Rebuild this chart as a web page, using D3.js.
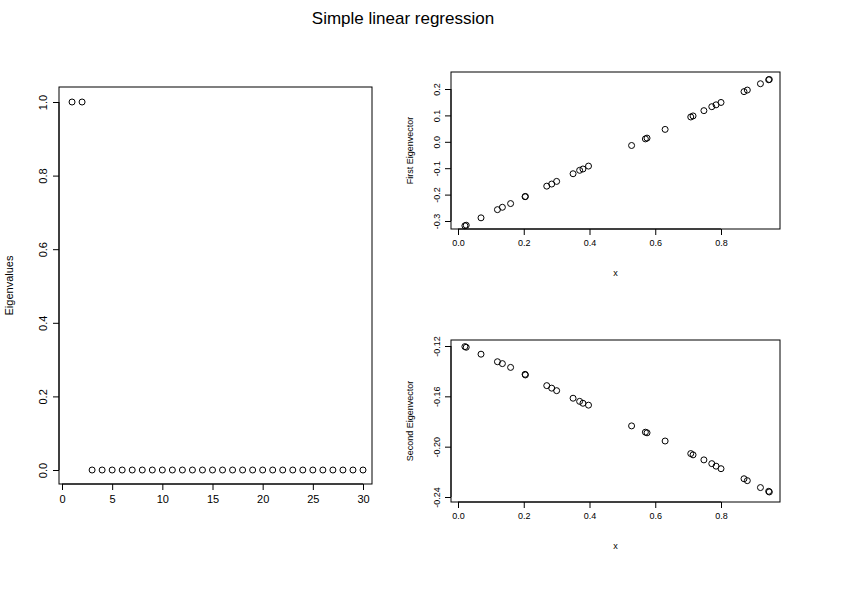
<!DOCTYPE html><html><head><meta charset="utf-8"><script src="https://cdn.jsdelivr.net/npm/d3@7"></script>
<style>body{margin:0;background:#fff}text{font-family:"Liberation Sans",Arial,sans-serif}</style></head><body>
<svg id="c" width="841" height="595"></svg>
<script>
const eigenvalues=[1,1,0,0,0,0,0,0,0,0,0,0,0,0,0,0,0,0,0,0,0,0,0,0,0,0,0,0,0,0];
const xvals=[0.021,0.025,0.07,0.12,0.135,0.16,0.204,0.205,0.27,0.285,0.30,0.35,0.37,0.38,0.397,0.528,0.57,0.575,0.63,0.708,0.715,0.748,0.772,0.785,0.8,0.87,0.88,0.92,0.945,0.947];
const ev1=[-0.318,-0.316,-0.288,-0.257,-0.248,-0.234,-0.208,-0.207,-0.168,-0.160,-0.150,-0.121,-0.108,-0.103,-0.092,-0.014,0.011,0.014,0.047,0.094,0.098,0.118,0.133,0.140,0.149,0.190,0.196,0.220,0.235,0.236];
const ev2=[-0.1205,-0.121,-0.1265,-0.1325,-0.134,-0.137,-0.1425,-0.143,-0.1515,-0.1535,-0.1555,-0.1615,-0.164,-0.1655,-0.167,-0.1835,-0.1885,-0.189,-0.1955,-0.2055,-0.2065,-0.2105,-0.2135,-0.2155,-0.2175,-0.2255,-0.227,-0.2325,-0.2355,-0.236];
const svg=d3.select("#c");
svg.append("text").attr("x",403).attr("y",24).attr("text-anchor","middle").attr("font-size",17).text("Simple linear regression");
const fmt=p=>v=>d3.format(p)(v).replace("\u2212","-");
function panel(o){
  const g=svg.append("g");
  const x=d3.scaleLinear().domain(o.xd).range(o.xr);
  const y=d3.scaleLinear().domain(o.yd).range(o.yr);
  g.append("rect").attr("x",o.box[0]).attr("y",o.box[1]).attr("width",o.box[2]-o.box[0]).attr("height",o.box[3]-o.box[1]).attr("fill","none").attr("stroke","#000");
  const xa=g.append("g").attr("transform",`translate(0,${o.box[3]})`).call(d3.axisBottom(x).tickValues(o.xt).tickFormat(o.xf).tickSize(6).tickPadding(5));
  const ya=g.append("g").attr("transform",`translate(${o.box[0]},0)`).call(d3.axisLeft(y).tickValues(o.yt).tickFormat(o.yf).tickSize(6).tickPadding(4));
  [xa,ya].forEach(a=>{a.select(".domain").remove();a.selectAll("text").attr("font-size",o.fs).attr("font-family","Liberation Sans, Arial");});
  xa.append("line").attr("x1",x(o.xt[0])).attr("x2",x(o.xt[o.xt.length-1])).attr("stroke","#000");
  ya.append("line").attr("y1",y(o.yt[0])).attr("y2",y(o.yt[o.yt.length-1])).attr("stroke","#000");
  ya.selectAll(".tick text").attr("text-anchor","middle").attr("transform",`rotate(-90,${-10-o.fs/2},0)`).attr("x",-10-o.fs/2).attr("dy","0.35em");
  g.selectAll("circle.p").data(o.xs).join("circle").attr("cx",d=>x(d)).attr("cy",(d,i)=>y(o.ys[i])).attr("r",3).attr("fill","none").attr("stroke","#000");
  if(o.xl) svg.append("text").attr("x",(o.box[0]+o.box[2])/2).attr("y",o.box[3]+47).attr("text-anchor","middle").attr("font-size",o.fs).text(o.xl);
  svg.append("text").attr("transform",`translate(${o.box[0]-o.yld},${(o.box[1]+o.box[3])/2}) rotate(-90)`).attr("text-anchor","middle").attr("font-size",o.fs).text(o.yl);
}
panel({box:[59,87,372,484],xd:[0,30],xr:[62,363],yd:[0,1],yr:[470,102],xt:[0,5,10,15,20,25,30],yt:[0,0.2,0.4,0.6,0.8,1.0],xf:fmt("d"),yf:fmt(".1f"),xs:d3.range(1,31),ys:eigenvalues,fs:11,yl:"Eigenvalues",yld:46});
panel({box:[451,72,780,229],xd:[0,0.8],xr:[458,721],yd:[-0.3,0.2],yr:[221,89],xt:[0,0.2,0.4,0.6,0.8],yt:[-0.3,-0.2,-0.1,0,0.1,0.2],xf:fmt(".1f"),yf:fmt(".1f"),xs:xvals,ys:ev1,fs:9,xl:"x",yl:"First Eigenvector",yld:38});
panel({box:[451,340,780,502],xd:[0,0.8],xr:[458,721],yd:[-0.24,-0.12],yr:[497,346],xt:[0,0.2,0.4,0.6,0.8],yt:[-0.24,-0.20,-0.16,-0.12],xf:fmt(".1f"),yf:fmt(".2f"),xs:xvals,ys:ev2,fs:9,xl:"x",yl:"Second Eigenvector",yld:38});
</script></body></html>
